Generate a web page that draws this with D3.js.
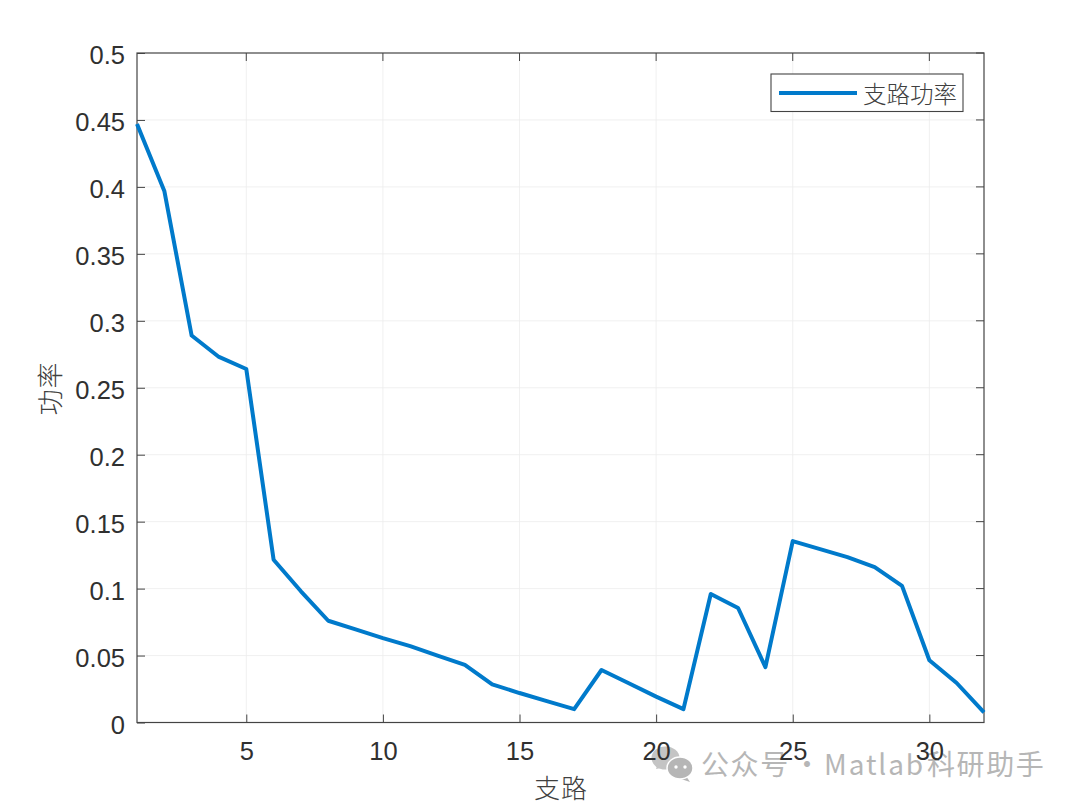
<!DOCTYPE html>
<html><head><meta charset="utf-8">
<script src="https://cdnjs.cloudflare.com/ajax/libs/d3/7.8.5/d3.min.js"></script>
<style>html,body{margin:0;padding:0;background:#fff}svg{display:block}</style></head>
<body><svg id="c" width="1080" height="807"></svg>
<script>
const branches = d3.range(1, 33);
const power = [0.447,0.397,0.289,0.273,0.264,0.1215,0.098,0.076,0.0695,0.063,0.057,0.050,0.043,0.0285,0.022,0.016,0.010,0.0392,0.0293,0.0193,0.010,0.096,0.0855,0.0413,0.1355,0.1295,0.1235,0.116,0.102,0.0465,0.0295,0.0075];
const xTicks = [5,10,15,20,25,30];
const yTicks = [0,0.05,0.1,0.15,0.2,0.25,0.3,0.35,0.4,0.45,0.5];
const seriesName = "支路功率", xLabel = "支路", yLabel = "功率";
const watermarkParts = ["公众号","·","Matlab","科研助手"];

const L=137,R=984,T=53,B=722.5;
const svg=d3.select("#c");
const x=d3.scaleLinear().domain([1,32]).range([L,R]);
const y=d3.scaleLinear().domain([0,0.5]).range([B,T]);
const ink="#303030", sans="'Liberation Sans',Arial,sans-serif", cjk="'Noto Sans CJK SC',sans-serif", blue="#007ACB", wm="#b6b6b6";

// watermark lies under the chart's ink
const w=svg.append("g");
w.append("path").attr("fill","#c4c4c4").attr("d","M656,769 l2,-6 l8,4 z");
w.append("ellipse").attr("fill","#c4c4c4").attr("cx",665.5).attr("cy",758).attr("rx",14).attr("ry",11.5);
w.append("path").attr("fill",wm).attr("d","M686,776 l4,6 l-9,-3 z");
w.append("ellipse").attr("fill",wm).attr("stroke","#fff").attr("stroke-width",1.5).attr("cx",680).attr("cy",768).attr("rx",13).attr("ry",11);
[[676,767],[685,767]].forEach(p=>w.append("circle").attr("cx",p[0]).attr("cy",p[1]).attr("r",1.7).attr("fill","#fff"));
const wt=w.append("text").attr("y",775).attr("font-family",cjk).attr("font-size",28).attr("fill",wm);
const wx=[701,793,824,927], wsp=[1.6,0,1.9,1.6];
watermarkParts.forEach((s,i)=>wt.append("tspan").attr("x",wx[i]).attr("letter-spacing",wsp[i]).text(s));

const grid=svg.append("g").attr("stroke","#ececec").attr("stroke-width",0.8);
xTicks.forEach(t=>grid.append("line").attr("x1",x(t)).attr("x2",x(t)).attr("y1",T).attr("y2",B));
yTicks.slice(1,-1).forEach(t=>grid.append("line").attr("x1",L).attr("x2",R).attr("y1",y(t)).attr("y2",y(t)));

const xa=svg.append("g").attr("transform",`translate(0,${B})`).call(d3.axisBottom(x).tickValues(xTicks).tickSize(-8).tickPadding(19).tickFormat(d3.format("d")));
const ya=svg.append("g").attr("transform",`translate(${L},0)`).call(d3.axisLeft(y).tickValues(yTicks).tickSize(-8).tickPadding(12).tickFormat(d=>String(d)));
[xa,ya].forEach(a=>{a.selectAll("path").remove();a.selectAll("line").attr("stroke","#444").attr("stroke-width",1);
 a.selectAll("text").attr("font-family",sans).attr("font-size",25.5).attr("fill",ink);});
ya.selectAll("text").attr("dy","0.42em");
const tk=svg.append("g").attr("stroke","#444").attr("stroke-width",1);
xTicks.forEach(t=>tk.append("line").attr("x1",x(t)).attr("x2",x(t)).attr("y1",T).attr("y2",T+8));
yTicks.forEach(t=>tk.append("line").attr("x1",R).attr("x2",R-8).attr("y1",y(t)).attr("y2",y(t)));
svg.append("rect").attr("x",L).attr("y",T).attr("width",R-L).attr("height",B-T).attr("fill","none").attr("stroke","#444").attr("stroke-width",1.2);

svg.append("path").datum(branches).attr("fill","none").attr("stroke",blue).attr("stroke-width",4).attr("stroke-linejoin","round")
 .attr("d",d3.line().x(d=>x(d)).y((d,i)=>y(power[i])));

svg.append("text").attr("x",561).attr("y",798).attr("text-anchor","middle").attr("font-family",cjk).attr("font-weight",300).attr("font-size",26).attr("letter-spacing",1).attr("fill","#404040").text(xLabel);
svg.append("text").attr("transform","translate(60,388.5) rotate(-90)").attr("text-anchor","middle").attr("font-family",cjk).attr("font-weight",300).attr("font-size",26).attr("letter-spacing",1).attr("fill","#404040").text(yLabel);

const lg=svg.append("g");
lg.append("rect").attr("x",771).attr("y",74).attr("width",192).attr("height",37.5).attr("fill","#fff").attr("stroke","#444").attr("stroke-width",1.1);
lg.append("line").attr("x1",779).attr("x2",857).attr("y1",93).attr("y2",93).attr("stroke",blue).attr("stroke-width",4);
lg.append("text").attr("x",863).attr("y",102.5).attr("font-family",cjk).attr("font-weight",300).attr("font-size",23.5).attr("fill","#404040").text(seriesName);
</script></body></html>
